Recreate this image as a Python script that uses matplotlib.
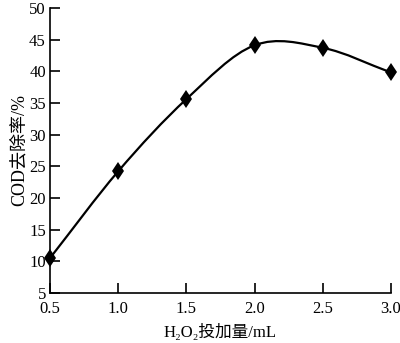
import numpy as np
import matplotlib
matplotlib.use("Agg")
import matplotlib.pyplot as plt
from matplotlib.path import Path
from matplotlib.patches import PathPatch

# H2O2 dose (mL) vs COD removal (%)
dose = [0.5, 1.0, 1.5, 2.0, 2.5, 3.0]
removal = [10.5, 24.2, 35.6, 44.1, 43.7, 39.8]
xticks = [0.5, 1.0, 1.5, 2.0, 2.5, 3.0]
yticks = [5, 10, 15, 20, 25, 30, 35, 40, 45, 50]

plt.rcParams['font.family'] = ['Liberation Serif', 'Noto Sans CJK SC', 'DejaVu Serif']
plt.rcParams['font.size'] = 12


def smooth_path(x, y):
    # catmull-rom through the points, turned into cubic bezier segments
    x = np.asarray(x, float)
    y = np.asarray(y, float)
    n = len(x)
    mx = np.zeros(n)
    my = np.zeros(n)
    for i in range(n):
        a = max(i - 1, 0)
        b = min(i + 1, n - 1)
        mx[i] = (x[b] - x[a]) / (b - a)
        my[i] = (y[b] - y[a]) / (b - a)
    verts = [(x[0], y[0])]
    codes = [Path.MOVETO]
    for i in range(n - 1):
        verts += [(x[i] + mx[i] / 3, y[i] + my[i] / 3),
                  (x[i + 1] - mx[i + 1] / 3, y[i + 1] - my[i + 1] / 3),
                  (x[i + 1], y[i + 1])]
        codes += [Path.CURVE4] * 3
    return Path(verts, codes)


fig = plt.figure(figsize=(4.0, 3.43), dpi=100)
ax = fig.add_axes([0.125, 0.146, 0.8525, 0.831])

ax.add_patch(PathPatch(smooth_path(dose, removal), fill=False, lw=1.6, color='black'))
ax.plot(dose, removal, linestyle='none', marker='d', ms=9.5, mew=0, color='black',
        clip_on=False, zorder=3)

ax.set_xlim(0.5, 3.0)
ax.set_ylim(5, 50)
ax.set_xticks(xticks)
ax.set_xticklabels(['%.1f' % v for v in xticks])
ax.set_yticks(yticks)

for s in ['top', 'right']:
    ax.spines[s].set_visible(False)
for s in ['left', 'bottom']:
    ax.spines[s].set_linewidth(1.2)
ax.tick_params(direction='in', length=7, width=1.2, labelsize=12)
ax.tick_params(axis='x', pad=6)
ax.tick_params(axis='y', pad=3)

ax.set_xlabel('H₂O₂投加量/mL', fontsize=12, labelpad=5)
ax.set_ylabel('COD去除率/%', fontsize=13, labelpad=1)

fig.savefig('out.png', dpi=100)
